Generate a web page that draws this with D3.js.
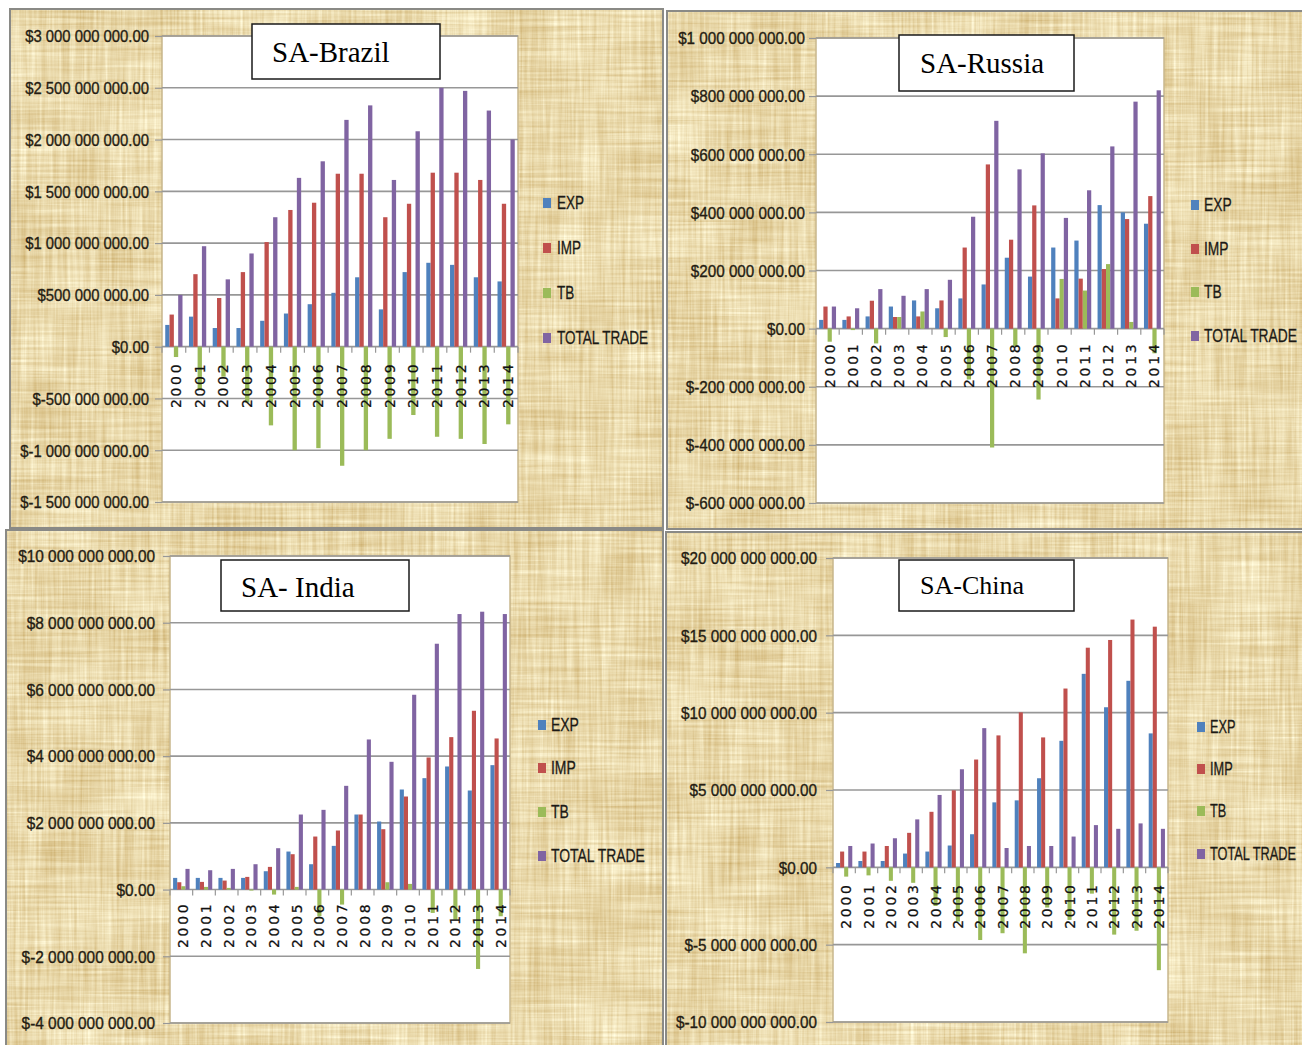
<!DOCTYPE html>
<html>
<head>
<meta charset="utf-8">
<script src="https://cdn.jsdelivr.net/npm/d3@7"></script>
<style>
  html, body { margin: 0; padding: 0; background: #ffffff; }
  svg { display: block; }
</style>
</head>
<body>
<svg id="chart" width="1302" height="1045"></svg>
<script>
// ---- data (values in millions of US dollars) ----
const years = [2000, 2001, 2002, 2003, 2004, 2005, 2006, 2007, 2008, 2009, 2010, 2011, 2012, 2013, 2014];
const seriesNames = ["EXP", "IMP", "TB", "TOTAL TRADE"];
const seriesColors = ["#4f81bd", "#c0504d", "#9bbb59", "#8064a2"];

const brazilExp   = [210, 290, 180, 180, 250, 320, 410, 520, 670, 360, 720, 810, 790, 670, 630];
const brazilImp   = [310, 700, 470, 720, 1010, 1320, 1390, 1670, 1670, 1250, 1380, 1680, 1680, 1610, 1380];
const brazilTb    = [-100, -410, -290, -540, -760, -1000, -980, -1150, -1000, -890, -660, -870, -890, -940, -750];
const brazilTotal = [500, 970, 650, 900, 1250, 1630, 1790, 2190, 2330, 1610, 2080, 2500, 2470, 2280, 2000];
const brazilTicks = [-1500, -1000, -500, 0, 500, 1000, 1500, 2000, 2500, 3000];

const russiaExp   = [30, 30, 42, 76, 97, 70, 104, 152, 244, 179, 279, 303, 425, 400, 361];
const russiaImp   = [76, 42, 96, 40, 42, 97, 279, 565, 306, 424, 104, 172, 205, 377, 456];
const russiaTb    = [-45, -5, -51, 40, 59, -29, -175, -409, -60, -244, 171, 131, 222, 23, -85];
const russiaTotal = [76, 70, 136, 113, 136, 168, 385, 715, 548, 603, 381, 476, 627, 781, 820];
const russiaTicks = [-600, -400, -200, 0, 200, 400, 600, 800, 1000];

const indiaExp   = [350, 350, 350, 350, 550, 1140, 760, 1310, 2250, 2040, 3000, 3340, 3690, 2970, 3730];
const indiaImp   = [220, 230, 270, 380, 680, 1060, 1590, 1770, 2250, 1810, 2790, 3960, 4570, 5360, 4530];
const indiaTb    = [100, 80, 50, -30, -150, 80, -800, -450, 0, 220, 170, -700, -900, -2380, -800];
const indiaTotal = [620, 580, 620, 760, 1240, 2250, 2390, 3110, 4500, 3830, 5840, 7370, 8260, 8330, 8260];
const indiaTicks = [-4000, -2000, 0, 2000, 4000, 6000, 8000, 10000];

const chinaExp   = [280, 410, 410, 890, 1020, 1410, 2140, 4200, 4330, 5760, 8180, 12510, 10350, 12060, 8660];
const chinaImp   = [1020, 1020, 1380, 2230, 3590, 4980, 6970, 8530, 10020, 8400, 11560, 14200, 14700, 16020, 15560];
const chinaTb    = [-600, -520, -870, -1000, -2500, -3500, -4700, -4260, -5560, -2600, -3400, -1700, -4350, -4100, -6650];
const chinaTotal = [1380, 1540, 1880, 3100, 4680, 6340, 9000, 1250, 1380, 1380, 1990, 2730, 2490, 2840, 2490];
const chinaTicks = [-10000, -5000, 0, 5000, 10000, 15000, 20000];

// ---- panel layout ----
const panels = [
  { title: "SA-Brazil", series: [brazilExp, brazilImp, brazilTb, brazilTotal], ticks: brazilTicks,
    frame: [10, 9, 653, 519], plot: { x0: 162, x1: 518, y0: 36, y1: 502 },
    yLabelRight: 149, yLabelWidth: 124, xGap: 15,
    titleBox: [252, 24, 188, 55], titleX: 272, titleBase: 62, titleSize: 29,
    legend: { sq: 543, tx: 557, rows: [203, 248, 293, 338], width: 91 } },
  { title: "SA-Russia", series: [russiaExp, russiaImp, russiaTb, russiaTotal], ticks: russiaTicks,
    frame: [667, 11, 643, 518], plot: { x0: 816, x1: 1164, y0: 38, y1: 503 },
    yLabelRight: 805, yLabelWidth: 127, xGap: 13,
    titleBox: [899, 35, 175, 56], titleX: 920, titleBase: 73, titleSize: 29,
    legend: { sq: 1191, tx: 1204, rows: [205, 249, 292, 336], width: 93 } },
  { title: "SA- India", series: [indiaExp, indiaImp, indiaTb, indiaTotal], ticks: indiaTicks,
    frame: [6, 530, 657, 520], plot: { x0: 170, x1: 510, y0: 556, y1: 1023 },
    yLabelRight: 155, yLabelWidth: 137, xGap: 12,
    titleBox: [221, 560, 188, 51], titleX: 241, titleBase: 597, titleSize: 29,
    legend: { sq: 538, tx: 551, rows: [725, 768, 812, 856], width: 94 } },
  { title: "SA-China", series: [chinaExp, chinaImp, chinaTb, chinaTotal], ticks: chinaTicks,
    frame: [666, 532, 644, 518], plot: { x0: 833, x1: 1168, y0: 558, y1: 1022 },
    yLabelRight: 817, yLabelWidth: 136, xGap: 15,
    titleBox: [899, 560, 175, 51], titleX: 920, titleBase: 594, titleSize: 26,
    legend: { sq: 1197, tx: 1210, rows: [727, 769, 811, 854], width: 86 } }
];

const labelFont = "'Liberation Sans', Arial, sans-serif";
const svg = d3.select("#chart");

// ---- papyrus texture filter: fine crossing fibres over soft blotches ----
const defs = svg.append("defs");
const f = defs.append("filter").attr("id", "papyrus")
  .attr("x", 0).attr("y", 0).attr("width", 1).attr("height", 1)
  .attr("color-interpolation-filters", "sRGB");
const grey = "1 0 0 0 0  1 0 0 0 0  1 0 0 0 0  0 0 0 0 1";
function noise(freq, oct, seed, name) {
  f.append("feTurbulence").attr("type", "fractalNoise").attr("baseFrequency", freq)
    .attr("numOctaves", oct).attr("seed", seed).attr("result", name + "0");
  f.append("feColorMatrix").attr("in", name + "0").attr("type", "matrix").attr("values", grey).attr("result", name);
}
noise("0.01 0.35", 3, 4, "hf");
noise("0.35 0.01", 3, 11, "vf");
noise("0.018", 2, 23, "bl");
f.append("feComposite").attr("in", "hf").attr("in2", "vf").attr("operator", "arithmetic")
  .attr("k2", 0.5).attr("k3", 0.5).attr("result", "fib");
f.append("feComposite").attr("in", "fib").attr("in2", "bl").attr("operator", "arithmetic")
  .attr("k2", 0.75).attr("k3", 0.25).attr("result", "mix");
f.append("feColorMatrix").attr("in", "mix").attr("type", "matrix")
  .attr("values", "0.36 0 0 0 0.735  0.52 0 0 0 0.59  0.75 0 0 0 0.295  0 0 0 0 1");

function textWidth(str, size, family) {
  const t = svg.append("text").attr("font-size", size).attr("font-family", family).text(str);
  const w = t.node().getComputedTextLength();
  t.remove();
  return w;
}

function money(v) {
  const s = d3.format(",.2f")(Math.abs(v) * 1e6).replace(/,/g, " ");
  return (v < 0 ? "$-" : "$") + s;
}

panels.forEach(p => {
  const g = svg.append("g");
  const [fx, fy, fw, fh] = p.frame;

  // textured panel background and frame
  g.append("rect").attr("x", fx).attr("y", fy).attr("width", fw).attr("height", fh)
    .attr("fill", "#e6d19a").attr("filter", "url(#papyrus)");
  g.append("rect").attr("x", fx).attr("y", fy).attr("width", fw).attr("height", fh)
    .attr("fill", "none").attr("stroke", "#8a8a86").attr("stroke-width", 2);

  const { x0, x1, y0, y1 } = p.plot;
  const y = d3.scaleLinear().domain([d3.min(p.ticks), d3.max(p.ticks)]).range([y1, y0]);
  const x = d3.scaleBand().domain(years).range([x0, x1]).paddingInner(1.5 / 5.5).paddingOuter(0.75 / 5.5);
  const xs = d3.scaleBand().domain(d3.range(4)).range([0, x.bandwidth()]);

  // plot area
  g.append("rect").attr("x", x0).attr("y", y0).attr("width", x1 - x0).attr("height", y1 - y0)
    .attr("fill", "#ffffff").attr("stroke", "#c8b78c").attr("stroke-width", 1.5);

  // gridlines
  g.append("g").selectAll("line").data(p.ticks).join("line")
    .attr("x1", x0).attr("x2", x1)
    .attr("y1", d => y(d)).attr("y2", d => y(d))
    .attr("stroke", "#979797").attr("stroke-width", 1.6);

  // bars
  p.series.forEach((vals, si) => {
    g.append("g").selectAll("rect").data(years.map((yr, i) => ({ yr, v: vals[i] }))).join("rect")
      .attr("x", d => x(d.yr) + xs(si))
      .attr("width", xs.bandwidth())
      .attr("y", d => y(Math.max(0, d.v)))
      .attr("height", d => Math.abs(y(d.v) - y(0)))
      .attr("fill", seriesColors[si]);
  });

  // category tick marks on the zero line
  g.append("g").selectAll("line").data(d3.range(years.length + 1)).join("line")
    .attr("x1", i => x0 + i * x.step()).attr("x2", i => x0 + i * x.step())
    .attr("y1", y(0)).attr("y2", y(0) + 6)
    .attr("stroke", "#979797").attr("stroke-width", 1.2);

  // category labels
  const xAxis = g.append("g").attr("transform", `translate(0,${y(0) + p.xGap})`)
    .call(d3.axisBottom(x).tickSize(0));
  xAxis.select(".domain").remove();
  xAxis.selectAll("text")
    .attr("x", 0).attr("y", 0).attr("dy", "0.36em")
    .attr("transform", "translate(2,0) rotate(-90)")
    .attr("text-anchor", "end")
    .attr("font-family", "'DejaVu Sans', sans-serif")
    .attr("font-size", 14)
    .attr("letter-spacing", "2.7px")
    .attr("fill", "#111111")
    .attr("stroke", "#111111").attr("stroke-width", 0.25);

  // value axis
  const ySize = 16.5;
  const sx = p.yLabelWidth / textWidth(money(d3.max(p.ticks)), ySize, labelFont);
  const yAxis = g.append("g").attr("transform", `translate(${x0},0)`)
    .call(d3.axisLeft(y).tickValues(p.ticks).tickSize(7).tickFormat(money));
  yAxis.select(".domain").remove();
  yAxis.selectAll(".tick line").attr("stroke", "#979797").attr("stroke-width", 1.2);
  yAxis.selectAll(".tick text")
    .attr("x", 0).attr("dy", "0.35em")
    .attr("transform", `translate(${p.yLabelRight - x0},0) scale(${sx},1)`)
    .attr("font-family", labelFont).attr("font-size", ySize)
    .attr("fill", "#241c12")
    .attr("stroke", "#241c12").attr("stroke-width", 0.35);

  // legend
  const lSize = 18;
  const lsx = p.legend.width / textWidth("TOTAL TRADE", lSize, labelFont);
  const lg = g.append("g").selectAll("g").data(seriesNames).join("g")
    .attr("transform", (d, i) => `translate(0,${p.legend.rows[i]})`);
  lg.append("rect").attr("x", p.legend.sq).attr("y", -5).attr("width", 8).attr("height", 10)
    .attr("fill", (d, i) => seriesColors[i]);
  lg.append("text")
    .attr("transform", `translate(${p.legend.tx},0) scale(${lsx},1)`)
    .attr("dy", "0.36em")
    .attr("font-family", labelFont).attr("font-size", lSize)
    .attr("fill", "#1c1a16")
    .attr("stroke", "#1c1a16").attr("stroke-width", 0.3)
    .text(d => d);

  // title box
  const [bx, by, bw, bh] = p.titleBox;
  g.append("rect").attr("x", bx).attr("y", by).attr("width", bw).attr("height", bh)
    .attr("fill", "#ffffff").attr("stroke", "#1a1a1a").attr("stroke-width", 1.5);
  g.append("text").attr("x", p.titleX).attr("y", p.titleBase)
    .attr("font-family", "'Liberation Serif', 'Times New Roman', serif")
    .attr("font-size", p.titleSize).attr("fill", "#000000")
    .text(p.title);
});
</script>
</body>
</html>
